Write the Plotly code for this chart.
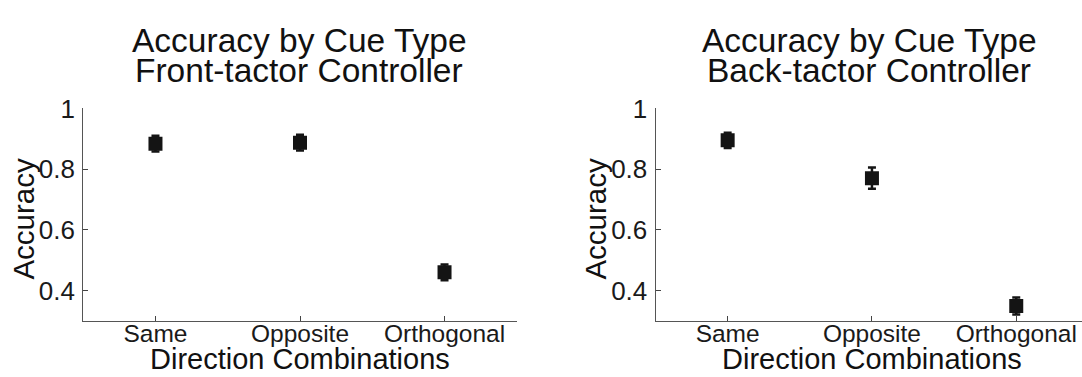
import plotly.graph_objects as go

categories = ["Same", "Opposite", "Orthogonal"]
front_acc = [0.884, 0.887, 0.460]
front_err = [0.026, 0.026, 0.026]
back_acc = [0.895, 0.770, 0.349]
back_err = [0.025, 0.035, 0.028]
y_ticks = [0.4, 0.6, 0.8, 1.0]
y_ticktext = ["0.4", "0.6", "0.8", "1"]

W, H = 1082, 377
FONT = "Liberation Sans, Arial, sans-serif"
DARK = "#141414"

fig = go.Figure()

for acc, err, xa, ya in [(front_acc, front_err, "x", "y"), (back_acc, back_err, "x2", "y2")]:
    fig.add_trace(go.Scatter(
        x=[1, 2, 3], y=acc, mode="markers", xaxis=xa, yaxis=ya,
        marker=dict(symbol="square", size=14, color=DARK, line=dict(width=0)),
        error_y=dict(type="data", array=err, visible=True, color=DARK, thickness=2.5, width=4),
        showlegend=False, hoverinfo="skip",
    ))

def px_x(p):
    return p / W

def px_y(p):
    return 1 - p / H

axis_common = dict(
    showgrid=False, zeroline=False, showline=True, linecolor="#555", linewidth=1,
    ticks="inside", ticklen=5, tickcolor="#444", tickwidth=1,
)
xfont = dict(family=FONT, size=24.5, color="#1a1a1a")
yfont = dict(family=FONT, size=26, color="#1a1a1a")

y_dom = [px_y(318.5), px_y(97.3)]
fig.update_layout(
    width=W, height=H, margin=dict(l=0, r=0, t=0, b=0),
    paper_bgcolor="white", plot_bgcolor="white",
    xaxis=dict(domain=[px_x(83.2), px_x(516.8)], range=[0.5, 3.5], tickvals=[1, 2, 3],
               ticktext=categories, anchor="y", tickfont=xfont, ticklabelstandoff=-9, **axis_common),
    yaxis=dict(domain=y_dom, range=[0.3, 1.0], tickvals=y_ticks, ticktext=y_ticktext,
               anchor="x", tickfont=yfont, ticklabelstandoff=2, **axis_common),
    xaxis2=dict(domain=[px_x(655.5), 1.0], range=[0.5, 0.5 + (1082 - 655.5) / 144.3], tickvals=[1, 2, 3],
                ticktext=categories, anchor="y2", tickfont=xfont, ticklabelstandoff=-9, **axis_common),
    yaxis2=dict(domain=y_dom, range=[0.3, 1.0], tickvals=y_ticks, ticktext=y_ticktext,
                anchor="x2", tickfont=yfont, ticklabelstandoff=2, **axis_common),
)

titles = [("Accuracy by Cue Type", "Front-tactor Controller", 299, 300),
          ("Accuracy by Cue Type", "Back-tactor Controller", 869, 871.5)]
for l1, l2, cx, ax_c in titles:
    fig.add_annotation(text=l1, x=px_x(cx), y=px_y(26.4), xref="paper", yref="paper",
                       xanchor="center", yanchor="middle", showarrow=False,
                       font=dict(family=FONT, size=33.5, color="#111"))
    fig.add_annotation(text=l2, x=px_x(cx), y=px_y(57.4), xref="paper", yref="paper",
                       xanchor="center", yanchor="middle", showarrow=False,
                       font=dict(family=FONT, size=33.5, color="#111"))
    fig.add_annotation(text="Direction Combinations", x=px_x(ax_c), y=0, xref="paper", yref="paper",
                       xanchor="center", yanchor="bottom", showarrow=False,
                       font=dict(family=FONT, size=29, color="#111"))

for cx in [24, 596]:
    fig.add_annotation(text="Accuracy", x=px_x(cx), y=px_y(212), xref="paper", yref="paper",
                       xanchor="center", yanchor="middle", showarrow=False, textangle=-90,
                       font=dict(family=FONT, size=29.5, color="#111"))

fig.write_html("out.html")
